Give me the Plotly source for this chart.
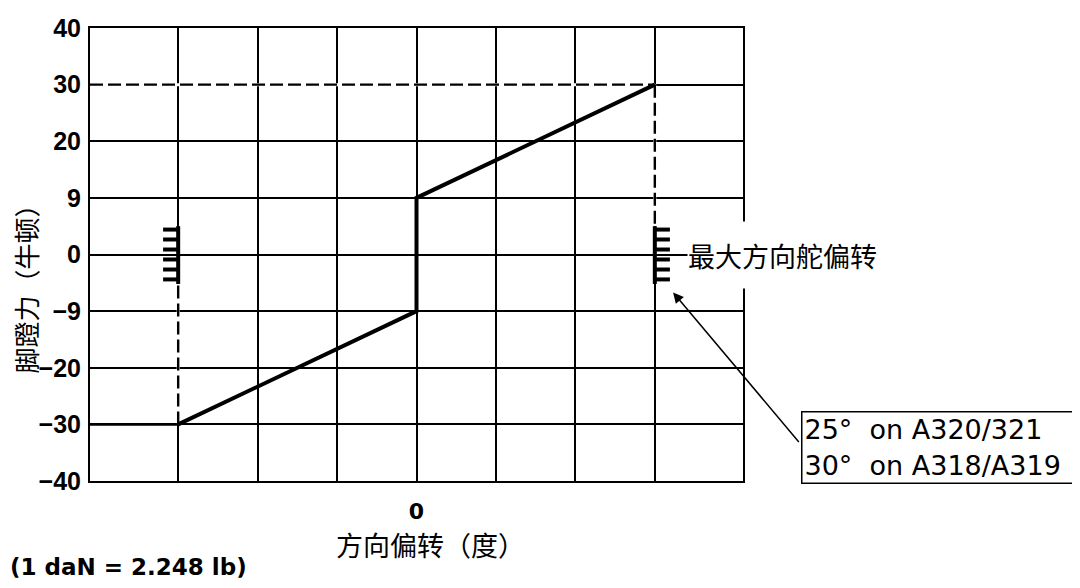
import plotly.graph_objects as go

# pedal force vs rudder deflection
defl_deg = [-30, 0, 0, 30]
pedal_force = [-30, -9, 9, 30]

force_levels = [-40, -30, -20, -9, 0, 9, 20, 30, 40]
defl_grid = [-30, -20, -10, 0, 10, 20, 30]
defl_labels = ['', '', '', '0', '', '', '']
max_defl = 30
max_force = 30

box_lines = ['25°\u00a0\u00a0on A320/321', '30°\u00a0\u00a0on A318/A319']
comb_label = '最大方向舵偏转'
y_title = '脚蹬力（牛顿）'
x_title = '方向偏转（度）'
note = '(1 daN = 2.248 lb)'


def lab(v):
    return str(v).replace('-', '\u2212')


def idx(v):
    return force_levels.index(v)


x_range = [-41.1, 41.1]
cats = [lab(v) for v in force_levels]
cjk = 'Noto Sans CJK SC'

fig = go.Figure()

fig.add_trace(go.Scatter(
    x=defl_deg, y=[lab(v) for v in pedal_force],
    mode='lines', line=dict(color='black', width=4),
    showlegend=False, hoverinfo='skip'))

shapes = []
black = 'black'

# white gaps under the dashed guide lines
for x0, y0, x1, y1 in [(x_range[0], idx(max_force), max_defl, idx(max_force)),
                       (max_defl, idx(max_force), max_defl, idx(0) + 0.5),
                       (-max_defl, idx(-max_force), -max_defl, idx(0) - 0.52)]:
    shapes.append(dict(type='line', xref='x', yref='y', x0=x0, y0=y0, x1=x1, y1=y1,
                       line=dict(color='white', width=3), layer='between'))
    shapes.append(dict(type='line', xref='x', yref='y', x0=x0, y0=y0, x1=x1, y1=y1,
                       line=dict(color=black, width=2.4, dash='13px,5px'), layer='between'))

shapes.append(dict(type='line', xref='x', yref='y',
                   x0=x_range[0], y0=idx(-max_force), x1=-max_defl, y1=idx(-max_force),
                   line=dict(color=black, width=2.5), layer='between'))

# max deflection combs
comb_offsets = [0.44, 0.265, 0.088, -0.088, -0.265, -0.44]
for side in (-1, 1):
    xc = side * max_defl
    shapes.append(dict(type='line', xref='x', yref='y', x0=xc, y0=idx(0) + 0.5,
                       x1=xc, y1=idx(0) - 0.52,
                       line=dict(color=black, width=4), layer='between'))
    for off in comb_offsets:
        shapes.append(dict(type='line', xref='x', yref='y', x0=xc, y0=idx(0) + off,
                           x1=xc + side * 1.9, y1=idx(0) + off,
                           line=dict(color=black, width=4), layer='between'))

annotations = [
    dict(x=34.0, y=idx(0), xref='x', yref='y', text=comb_label, showarrow=False,
         xanchor='left', yanchor='middle', bgcolor='white', height=66, borderpad=0,
         font=dict(family=cjk, size=27, color=black)),
    dict(x=1.0888, y=0.075, xref='paper', yref='paper', text='<br>'.join(box_lines),
         showarrow=False, align='left', xanchor='left', yanchor='middle',
         width=266, height=66,
         bgcolor='white', bordercolor=black, borderwidth=1.5, borderpad=2,
         font=dict(family='DejaVu Sans', size=27, color=black)),
    dict(x=32.3, y=idx(0) - 0.67, xref='x', yref='y', text='', showarrow=True,
         ax=127, ay=151, arrowhead=2, arrowsize=1.4, arrowwidth=1.5, arrowcolor=black,
         standoff=0),
    dict(x=-0.099, y=0.439, xref='paper', yref='paper', text=y_title, showarrow=False,
         textangle=-90, xanchor='center', yanchor='middle',
         font=dict(family=cjk, size=26, color=black)),
    dict(x=0.5207, y=-0.1391, xref='paper', yref='paper', text=x_title, showarrow=False,
         xanchor='center', yanchor='middle',
         font=dict(family=cjk, size=27, color=black)),
    dict(x=-0.1256, y=-0.19, xref='paper', yref='paper', text=note, showarrow=False,
         xanchor='left', yanchor='middle',
         font=dict(family='DejaVu Sans', size=23, color=black, weight='bold')),
]

# page body adds ~8px, so the figure is a bit smaller than the window
fig.update_layout(
    width=1064, height=572,
    margin=dict(l=82, r=329, t=20, b=99),
    plot_bgcolor='white', paper_bgcolor='white',
    shapes=shapes, annotations=annotations,
    xaxis=dict(range=x_range, tickmode='array', tickvals=defl_grid, ticktext=defl_labels,
               showgrid=True, gridcolor=black, gridwidth=1.5, zeroline=False,
               showline=True, linecolor=black, linewidth=2, mirror=True, ticks='',
               ticklabelstandoff=10, automargin=False,
               tickfont=dict(family='DejaVu Sans', size=22, color=black, weight='bold')),
    yaxis=dict(type='category', categoryorder='array', categoryarray=cats, range=[0, 8],
               showgrid=True, gridcolor=black, gridwidth=1.5, zeroline=False,
               showline=True, linecolor=black, linewidth=2, mirror=True, ticks='',
               ticklabelstandoff=2, automargin=False,
               tickfont=dict(family='Liberation Sans', size=25, color=black, weight='bold')),
)

fig.write_html('out.html')
